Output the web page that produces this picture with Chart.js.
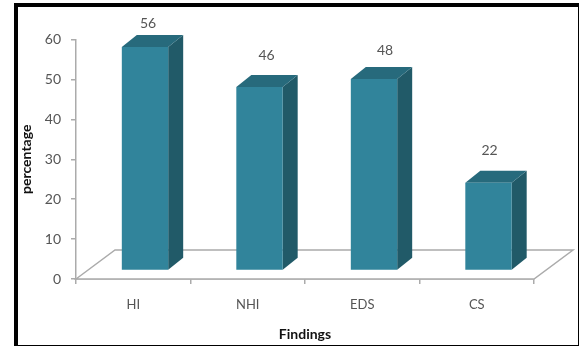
<!DOCTYPE html>
<html>
<head>
<meta charset="utf-8">
<style>
  html, body { margin: 0; padding: 0; background: #fff; }
  #wrap { position: relative; width: 579px; height: 347px; overflow: hidden; }
  #frame { position: absolute; left: 14px; top: 3px; width: 560px; height: 338px;
           border-style: solid; border-color: #000; border-width: 4px 1px 1px 4px;
           box-sizing: content-box; pointer-events: none; }
</style>
</head>
<body>
<div id="wrap">
  <canvas id="chart" width="579" height="347"></canvas>
  <div id="frame"></div>
</div>
<script src="https://cdn.jsdelivr.net/npm/chart.js@4/dist/chart.umd.min.js"></script>
<script>
const categories = ['HI', 'NHI', 'EDS', 'CS'];
const percentages = [56, 46, 48, 22];
const yTickStep = 10;
const yMax = 60;

const FONT = 'Lato, "Open Sans", sans-serif';
const AXIS_GREY = '#ababab';
const TEXT_GREY = '#555555';

// Oblique projection of the floor and of each column
const floorDepth = { x: 39, y: 29 };
const barDepth = { x: 15, y: 12 };
const barShift = { x: 11.75, y: -8.5 };
const labelNudgeX = [3, 7, 11, 1];
const labelGap = [23, 31, 28, 32];

function poly(ctx, pts, fill, stroke) {
  ctx.beginPath();
  pts.forEach((p, i) => i ? ctx.lineTo(p[0], p[1]) : ctx.moveTo(p[0], p[1]));
  ctx.closePath();
  if (fill) { ctx.fillStyle = fill; ctx.fill(); }
  if (stroke) { ctx.strokeStyle = stroke; ctx.lineWidth = 1.5; ctx.stroke(); }
}

const pseudo3d = {
  id: 'pseudo3d',
  beforeDatasetsDraw(chart) {
    const { ctx, chartArea: a } = chart;
    // Floor plane behind the columns
    ctx.save();
    ctx.lineJoin = 'miter';
    poly(ctx, [
      [a.left, a.bottom],
      [a.left + floorDepth.x, a.bottom - floorDepth.y],
      [a.right + floorDepth.x, a.bottom - floorDepth.y],
      [a.right, a.bottom]
    ], '#ffffff', AXIS_GREY);
    ctx.restore();

    // Side and top faces, then the library draws the front faces in the same shifted space
    ctx.save();
    ctx.translate(barShift.x, barShift.y);
    chart.getDatasetMeta(0).data.forEach(bar => {
      const l = bar.x - bar.width / 2, r = bar.x + bar.width / 2;
      const t = bar.y, b = bar.base;
      const dx = barDepth.x, dy = barDepth.y;
      poly(ctx, [[r, t], [r + dx, t - dy], [r + dx, b - dy], [r, b]], '#215a68');
      poly(ctx, [[l, t], [l + dx, t - dy], [r + dx, t - dy], [r, t]], '#276a7c');
    });
  },
  afterDatasetsDraw(chart) {
    const { ctx } = chart;
    ctx.restore();
    // Value captions above each column
    ctx.save();
    ctx.font = '14px ' + FONT;
    ctx.fillStyle = TEXT_GREY;
    ctx.textAlign = 'center';
    ctx.textBaseline = 'middle';
    chart.getDatasetMeta(0).data.forEach((bar, i) => {
      ctx.fillText(String(percentages[i]),
        bar.x + barShift.x + labelNudgeX[i],
        bar.y + barShift.y - labelGap[i]);
    });
    ctx.restore();
  }
};

new Chart(document.getElementById('chart'), {
  type: 'bar',
  data: {
    labels: categories,
    datasets: [{
      data: percentages,
      backgroundColor: '#31849b',
      borderWidth: 0,
      categoryPercentage: 1,
      barPercentage: 0.405
    }]
  },
  plugins: [pseudo3d],
  options: {
    responsive: false,
    animation: false,
    layout: { padding: { left: 0, top: 39.5, right: 45, bottom: 0 } },
    plugins: { legend: { display: false }, tooltip: { enabled: false } },
    scales: {
      x: {
        afterFit(scale) { scale.height = 68; },
        grid: { drawOnChartArea: false, drawTicks: true, tickLength: 5, color: AXIS_GREY, lineWidth: 1.5, offset: true },
        border: { color: AXIS_GREY, width: 1.5 },
        ticks: { color: TEXT_GREY, font: { family: FONT, size: 13 }, padding: 13, maxRotation: 0 },
        title: { display: true, text: 'Findings', color: '#111111',
                 font: { family: FONT, size: 14, weight: 'bold' }, padding: { top: 0, bottom: 4 } }
      },
      y: {
        min: 0,
        max: yMax,
        afterFit(scale) { scale.width = 76; },
        grid: { drawOnChartArea: false, drawTicks: true, tickLength: 5, color: AXIS_GREY, lineWidth: 1.5 },
        border: { color: AXIS_GREY, width: 1.5 },
        ticks: { stepSize: yTickStep, color: TEXT_GREY, font: { family: FONT, size: 14 }, padding: 10 },
        title: { display: true, text: 'percentage', color: '#111111',
                 font: { family: FONT, size: 14, weight: 'bold' }, padding: { top: 18, bottom: 0 } }
      }
    }
  }
});
</script>
</body>
</html>
